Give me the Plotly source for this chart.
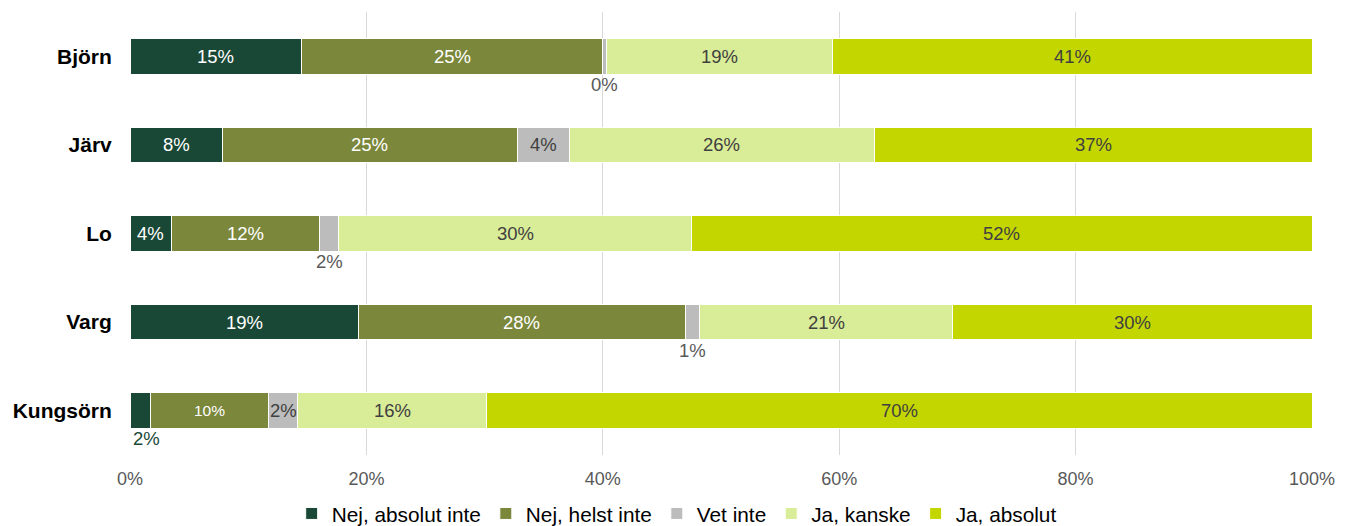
import plotly.graph_objects as go

categories = ["Björn", "Järv", "Lo", "Varg", "Kungsörn"]
series_names = ["Nej, absolut inte", "Nej, helst inte", "Vet inte", "Ja, kanske", "Ja, absolut"]

nej_absolut = [14.55, 7.8, 3.55, 19.3, 1.7]
nej_helst = [25.45, 24.95, 12.5, 27.7, 10.0]
vet_inte = [0.3, 4.4, 1.6, 1.2, 2.5]
ja_kanske = [19.1, 25.85, 29.85, 21.4, 16.0]
ja_absolut = [40.6, 37.0, 52.5, 30.4, 69.8]

lbl_nej_absolut = ["15%", "8%", "4%", "19%", "2%"]
lbl_nej_helst = ["25%", "25%", "12%", "28%", "10%"]
lbl_vet_inte = ["0%", "4%", "2%", "1%", "2%"]
lbl_ja_kanske = ["19%", "26%", "30%", "21%", "16%"]
lbl_ja_absolut = ["41%", "37%", "52%", "30%", "70%"]

# labels drawn below the bar (series index, category)
outside = [(2, "Björn"), (2, "Lo"), (2, "Varg"), (0, "Kungsörn")]
small_labels = [(1, "Kungsörn")]

colors = ["#1a4836", "#7b873b", "#bcbcbc", "#d9ec98", "#c4d600"]
inside_font_colors = ["#ffffff", "#ffffff", "#404040", "#404040", "#404040"]
outside_font_colors = ["#1a4836", "#595959", "#595959", "#595959", "#595959"]

values = [nej_absolut, nej_helst, vet_inte, ja_kanske, ja_absolut]
labels = [lbl_nej_absolut, lbl_nej_helst, lbl_vet_inte, lbl_ja_kanske, lbl_ja_absolut]

FONT = "Liberation Sans, Arial"

fig = go.Figure()
for i, name in enumerate(series_names):
    fig.add_trace(go.Bar(
        y=categories, x=values[i], name=name, orientation="h",
        marker=dict(color=colors[i], line=dict(color="#ffffff", width=1)),
        hoverinfo="skip",
    ))

annotations = []
cum = [0.0] * len(categories)
for i in range(len(series_names)):
    for j, cat in enumerate(categories):
        start = cum[j]
        v = values[i][j]
        center = start + v / 2
        cum[j] = start + v
        is_out = (i, cat) in outside
        size = 15.5 if (i, cat) in small_labels else 18.5
        if is_out:
            annotations.append(dict(
                x=center, y=cat, xref="x", yref="y", text=labels[i][j],
                showarrow=False, yshift=-28,
                xshift=6 if i == 0 else 0,
                font=dict(family=FONT, size=18.5, color=outside_font_colors[i]),
            ))
        else:
            annotations.append(dict(
                x=center, y=cat, xref="x", yref="y", text=labels[i][j],
                showarrow=False,
                font=dict(family=FONT, size=size, color=inside_font_colors[i]),
            ))

fig.update_layout(
    barmode="stack",
    bargap=0.6,
    width=1343, height=518,
    margin=dict(l=122, r=39, t=4, b=71, autoexpand=False),
    paper_bgcolor="#ffffff", plot_bgcolor="#ffffff",
    font=dict(family=FONT, color="#595959"),
    annotations=annotations,
    legend=dict(
        orientation="h", xref="paper", x=0.4625, xanchor="center",
        yref="paper", y=-0.133, yanchor="middle",
        font=dict(size=20.8, color="#000000"),
        traceorder="normal",
    ),
    xaxis=dict(
        range=[0, 100], dtick=20, ticksuffix="%", automargin=False,
        showgrid=True, gridcolor="#d9d9d9", gridwidth=1,
        zeroline=False, showline=False,
        ticks="outside", ticklen=7, tickcolor="rgba(0,0,0,0)",
        tickfont=dict(size=18, color="#595959"),
    ),
    yaxis=dict(
        autorange="reversed", automargin=False,
        showgrid=False, zeroline=False, showline=False,
        ticks="outside", ticklen=13, tickcolor="rgba(0,0,0,0)",
        tickfont=dict(size=21, color="#000000", family=FONT),
        tickprefix="<b>", ticksuffix="</b>",
    ),
)

fig.write_html("out.html")
